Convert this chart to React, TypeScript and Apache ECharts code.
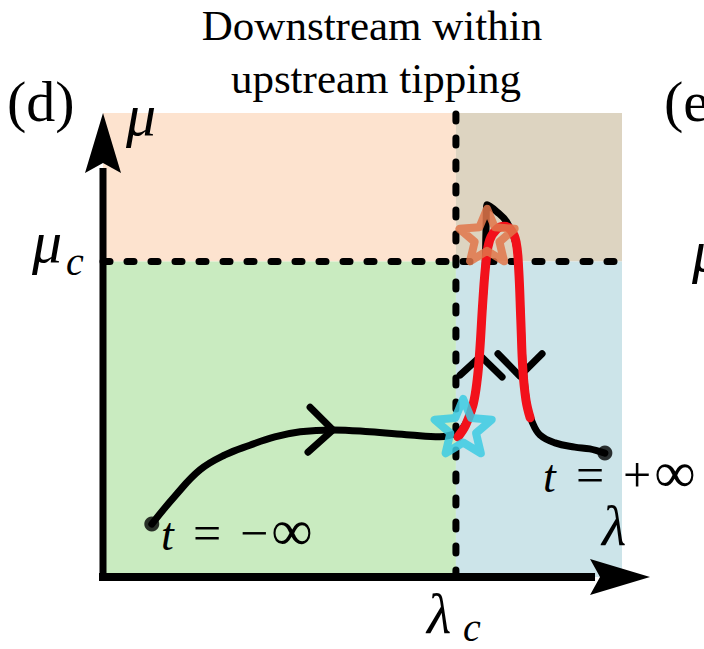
import React, { useEffect, useRef } from "react";
import * as echarts from "echarts";

// ---- Data (λ, μ in normalised units of the diagram) ----
const LAMBDA_C = 0.68;
const MU_C = 0.68;
const LAMBDA_MAX = 1;
const MU_MAX = 1;
const AXIS_X_TIP = 1.054;

// quadrant rectangles: [λ0, μ0, λ1, μ1]
const quadrants: number[][] = [
  [0, MU_C, LAMBDA_C, MU_MAX],
  [LAMBDA_C, MU_C, LAMBDA_MAX, MU_MAX],
  [0, 0, LAMBDA_C, MU_C],
  [LAMBDA_C, 0, LAMBDA_MAX, MU_C],
];
const quadrantColors = ["#fde3cf", "#ddd4c1", "#c9ebc0", "#cce4e9"];

// black trajectory from t = -inf to the upstream tipping point
const inflowPath: number[][] = [
  [0.094, 0.114], [0.139, 0.175], [0.187, 0.231], [0.235, 0.263],
  [0.283, 0.284], [0.331, 0.302], [0.38, 0.313], [0.443, 0.317],
  [0.514, 0.313], [0.592, 0.306], [0.649, 0.302], [0.688, 0.313],
];
// black excursion (partly under red) and tail to t = +inf
const excursionPath: number[][] = [
  [0.688, 0.313], [0.711, 0.36], [0.723, 0.446], [0.73, 0.554],
  [0.736, 0.662], [0.738, 0.748], [0.74, 0.802], [0.759, 0.787],
  [0.778, 0.765], [0.796, 0.716], [0.803, 0.619], [0.809, 0.468],
  [0.817, 0.371], [0.827, 0.334], [0.842, 0.306], [0.871, 0.289],
  [0.909, 0.28], [0.938, 0.276], [0.967, 0.267],
];
// red: downstream tipping
const tippingPath: number[][] = [
  [0.684, 0.302], [0.699, 0.328], [0.713, 0.371], [0.721, 0.425],
  [0.726, 0.489], [0.732, 0.597], [0.738, 0.679], [0.745, 0.726],
  [0.759, 0.75], [0.773, 0.756], [0.786, 0.748], [0.796, 0.722],
  [0.801, 0.662], [0.805, 0.554], [0.809, 0.446], [0.815, 0.381],
  [0.823, 0.343],
];
// direction chevrons
const chevronInflow: number[][] = [[0.399, 0.366], [0.443, 0.317], [0.395, 0.269]];
const chevronUp: number[][] = [[0.688, 0.435], [0.728, 0.476], [0.769, 0.431]];
const chevronDown: number[][] = [[0.761, 0.481], [0.803, 0.433], [0.846, 0.481]];
// endpoints
const endpoints: number[][] = [[0.094, 0.114], [0.967, 0.267]];
// tipping stars
const starUpstream: number[][] = [[0.694, 0.319]];
const starDownstream: number[][] = [[0.74, 0.731]];

const SERIF = "'Liberation Serif', 'Times New Roman', serif";

function starPoints(cx: number, cy: number, R: number, ratio: number) {
  const pts: number[][] = [];
  for (let i = 0; i < 10; i++) {
    const a = -Math.PI / 2 + (i * Math.PI) / 5;
    const r = i % 2 === 0 ? R : R * ratio;
    pts.push([cx + r * Math.cos(a), cy + r * Math.sin(a)]);
  }
  return pts;
}

function starSeries(data: number[][], color: string, R: number) {
  return {
    type: "custom",
    coordinateSystem: "cartesian2d",
    data,
    z: 6,
    clip: false,
    silent: true,
    renderItem: (params: any, api: any) => {
      const c = api.coord([api.value(0), api.value(1)]);
      return {
        type: "polygon",
        shape: { points: starPoints(c[0], c[1], R, 0.45) },
        style: { fill: "none", stroke: color, lineWidth: 8, lineJoin: "round", opacity: 0.85 },
      };
    },
  };
}

function lineSeries(data: number[][], color: string, width: number, z: number, smooth: number | boolean) {
  return {
    type: "line",
    data,
    z,
    smooth,
    symbol: "none",
    clip: false,
    silent: true,
    lineStyle: { color, width, cap: "round", join: "round" },
  };
}

function txt(text: string, x: number, y: number, size: number, italic = false, align = "left") {
  return {
    type: "text",
    x,
    y,
    z: 100,
    silent: true,
    style: {
      text,
      fontFamily: SERIF,
      fontSize: size,
      fontStyle: italic ? "italic" : "normal",
      fill: "#000",
      align,
      verticalAlign: "middle",
    },
  };
}

export default function App() {
  const ref = useRef<HTMLDivElement>(null);
  useEffect(() => {
    document.body.style.margin = "0";
    const chart = echarts.init(ref.current!, null, { renderer: "svg" });
    const option: any = {
      animation: false,
      backgroundColor: "#ffffff",
      grid: { left: 103, top: 113, width: 519, height: 464 },
      xAxis: { type: "value", min: 0, max: LAMBDA_MAX, show: false },
      yAxis: { type: "value", min: 0, max: MU_MAX, show: false },
      series: [
        {
          type: "custom",
          coordinateSystem: "cartesian2d",
          data: quadrants,
          encode: { x: [0, 2], y: [1, 3] },
          z: 1,
          silent: true,
          renderItem: (params: any, api: any) => {
            const p0 = api.coord([api.value(0), api.value(3)]);
            const p1 = api.coord([api.value(2), api.value(1)]);
            return {
              type: "rect",
              shape: { x: p0[0], y: p0[1], width: p1[0] - p0[0], height: p1[1] - p0[1] },
              style: { fill: quadrantColors[params.dataIndex] },
            };
          },
        },
        {
          type: "line",
          data: [[LAMBDA_C, 0], [LAMBDA_C, MU_MAX]],
          z: 2,
          symbol: "none",
          silent: true,
          lineStyle: { color: "#000", width: 7, type: [7, 17], cap: "round" },
        },
        {
          type: "line",
          data: [[0, MU_C], [LAMBDA_MAX, MU_C]],
          z: 2,
          symbol: "none",
          silent: true,
          lineStyle: { color: "#000", width: 7, type: [7, 17], cap: "round" },
        },
        lineSeries(inflowPath, "#000", 7, 3, 0.4),
        lineSeries(excursionPath, "#000", 7, 3, 0.4),
        lineSeries(chevronInflow, "#000", 7, 3, false),
        lineSeries(chevronUp, "#000", 7, 3, false),
        lineSeries(chevronDown, "#000", 7, 3, false),
        lineSeries(tippingPath, "#f2111b", 9, 4, 0.4),
        {
          type: "scatter",
          data: endpoints,
          z: 5,
          symbol: "circle",
          symbolSize: 15,
          silent: true,
          itemStyle: { color: "#000" },
        },
        starSeries(starUpstream, "#3ccbe3", 30),
        starSeries(starDownstream, "#e1754a", 29),
        {
          type: "custom",
          coordinateSystem: "cartesian2d",
          data: [[0, 0]],
          z: 8,
          clip: false,
          silent: true,
          renderItem: (params: any, api: any) => {
            const o = api.coord([0, 0]);
            const yt = api.coord([0, MU_MAX]);
            const xt = api.coord([AXIS_X_TIP, 0]);
            const L = 60, H = 18, N = 10;
            return {
              type: "group",
              children: [
                { type: "line", shape: { x1: o[0], y1: o[1] + 4, x2: yt[0], y2: yt[1] + L - 5 }, style: { stroke: "#000", lineWidth: 7 } },
                { type: "line", shape: { x1: o[0] - 4, y1: o[1], x2: xt[0] - L + 5, y2: xt[1] }, style: { stroke: "#000", lineWidth: 8 } },
                { type: "polygon", shape: { points: [[yt[0], yt[1]], [yt[0] + H, yt[1] + L], [yt[0], yt[1] + L - N], [yt[0] - H, yt[1] + L]] }, style: { fill: "#000" } },
                { type: "polygon", shape: { points: [[xt[0], xt[1]], [xt[0] - L, xt[1] - H], [xt[0] - L + N, xt[1]], [xt[0] - L, xt[1] + H]] }, style: { fill: "#000" } },
              ],
            };
          },
        },
      ],
      graphic: [
        txt("Downstream within", 372, 25, 43, false, "center"),
        txt("upstream tipping", 376, 78, 43, false, "center"),
        txt("(d)", 7, 101, 58),
        txt("(e", 664, 101, 58),
        txt("μ", 126, 115, 60, true),
        txt("μ", 32, 242, 60, true),
        txt("c", 66, 261, 40, true),
        txt("μ", 692, 251, 60, true),
        txt("λ", 427, 614, 56, true),
        txt("c", 463, 627, 40, true),
        txt("λ", 602, 526, 56, true),
        txt("t", 161, 534, 46, true),
        txt("=", 207, 533, 50, false, "center"),
        txt("−", 254, 533, 50, false, "center"),
        txt("∞", 292, 530, 58, false, "center"),
        txt("t", 543, 476, 46, true),
        txt("=", 590, 475, 50, false, "center"),
        txt("+", 637, 475, 50, false, "center"),
        txt("∞", 675, 472, 58, false, "center"),
      ],
    };
    chart.setOption(option);
    return () => chart.dispose();
  }, []);
  return <div ref={ref} style={{ width: 704, height: 649 }} />;
}
